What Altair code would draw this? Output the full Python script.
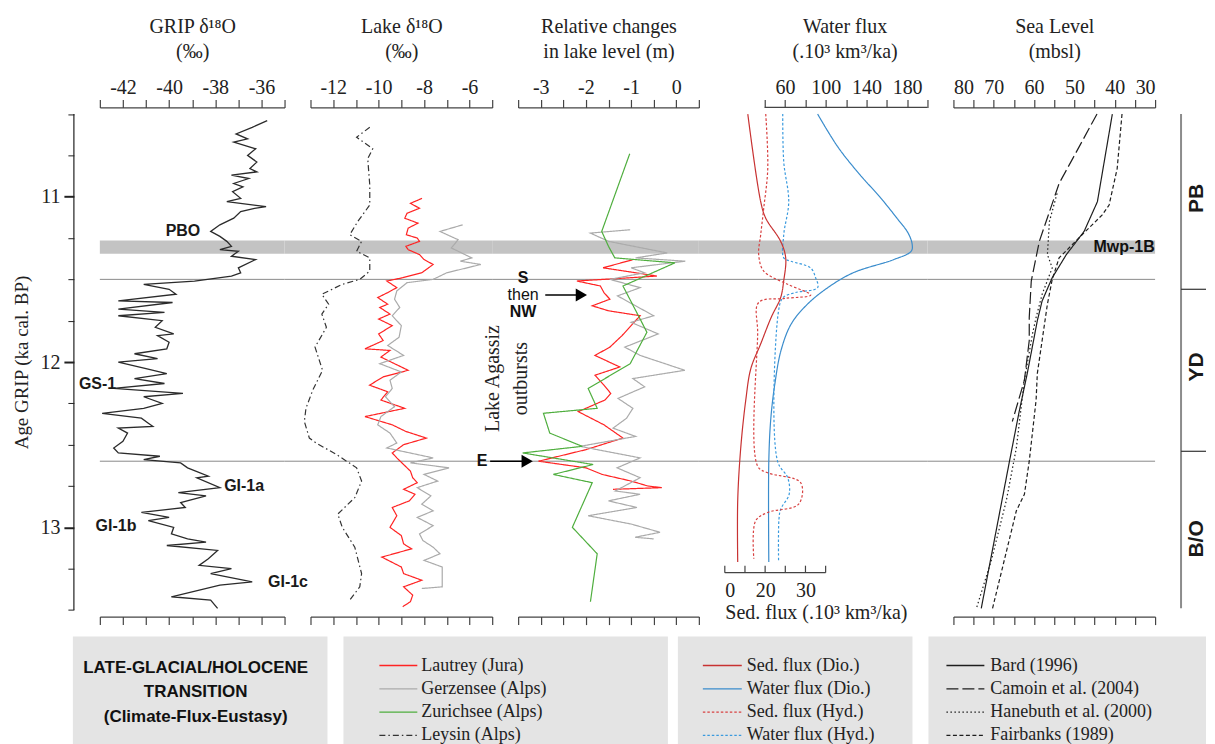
import altair as alt
import pandas as pd

# ---------------- data (age ka cal. BP, value) ----------------
GRIP = [(10.54, -35.75), (10.58, -36.4), (10.62, -37.1), (10.65, -36.6), (10.67, -37.2), (10.71, -36.25),
        (10.75, -36.6), (10.79, -36.2), (10.83, -36.5), (10.85, -36.2), (10.87, -37.3), (10.89, -36.55),
        (10.92, -37.2), (10.94, -36.8), (10.97, -37.25), (11.01, -36.9), (11.03, -37.5), (11.06, -35.8),
        (11.07, -36.3), (11.09, -36.9), (11.13, -37.2), (11.17, -37.8), (11.21, -38.2), (11.24, -37.8),
        (11.27, -37.5), (11.30, -37.3), (11.32, -37.8), (11.33, -37.0), (11.36, -37.3), (11.38, -36.25),
        (11.43, -37.0), (11.46, -36.9), (11.48, -37.3), (11.51, -38.9), (11.53, -41.1), (11.56, -40.0),
        (11.59, -39.7), (11.63, -42.2), (11.64, -39.85), (11.68, -42.2), (11.70, -40.2), (11.72, -42.2),
        (11.75, -40.3), (11.79, -40.6), (11.83, -39.8), (11.84, -40.5), (11.88, -40.0), (11.92, -40.1),
        (11.95, -41.5), (11.98, -40.5), (12.00, -42.2), (12.04, -41.0), (12.07, -40.1), (12.10, -41.5),
        (12.13, -40.2), (12.16, -42.4), (12.19, -39.4), (12.21, -41.1), (12.25, -40.3), (12.28, -41.1),
        (12.31, -42.9), (12.34, -41.2), (12.37, -40.9), (12.39, -40.7), (12.40, -42.2), (12.43, -41.8),
        (12.48, -42.0), (12.52, -42.4), (12.55, -42.2), (12.57, -40.4), (12.59, -41.1), (12.61, -39.5),
        (12.64, -39.2), (12.69, -38.3), (12.70, -38.8), (12.76, -37.8), (12.79, -39.6), (12.81, -38.4),
        (12.85, -39.5), (12.88, -39.3), (12.91, -41.2), (12.94, -40.0), (12.96, -40.9), (13.00, -39.8),
        (13.04, -39.9), (13.07, -39.2), (13.09, -38.4), (13.11, -40.1), (13.14, -37.9), (13.19, -38.3),
        (13.23, -38.7), (13.25, -37.3), (13.28, -38.2), (13.33, -36.4), (13.35, -37.8), (13.42, -39.9),
        (13.44, -38.2), (13.49, -37.9)]

LEYSIN_D18O = [(10.58, -10.39), (10.64, -10.97), (10.71, -10.26), (10.77, -10.48), (10.93, -10.39),
               (11.05, -10.39), (11.15, -10.92), (11.23, -11.27), (11.27, -10.75), (11.33, -10.97),
               (11.37, -10.39), (11.45, -10.39), (11.50, -10.83), (11.53, -11.6), (11.59, -12.5),
               (11.65, -12.2), (11.71, -12.5), (11.79, -12.3), (11.91, -12.8), (12.05, -12.47),
               (12.17, -12.9), (12.28, -13.2), (12.36, -13.27), (12.46, -13.05), (12.49, -12.75),
               (12.56, -11.85), (12.64, -10.97), (12.72, -10.75), (12.82, -11.05), (12.92, -11.8),
               (13.00, -11.6), (13.12, -11.05), (13.28, -10.75), (13.36, -10.83), (13.44, -11.27)]

LAUTREY_D18O = [(11.01, -8.09), (11.04, -8.6), (11.07, -8.2), (11.10, -8.75), (11.13, -8.85), (11.16, -8.27),
                (11.19, -8.7), (11.23, -8.78), (11.25, -8.3), (11.27, -8.2), (11.30, -8.8), (11.32, -8.7),
                (11.35, -8.2), (11.38, -8.0), (11.41, -7.6), (11.46, -8.1), (11.49, -8.94), (11.51, -9.64),
                (11.55, -9.2), (11.58, -9.6), (11.61, -10.04), (11.65, -9.6), (11.67, -9.95), (11.71, -9.5),
                (11.74, -10.0), (11.78, -9.4), (11.83, -10.0), (11.87, -9.8), (11.92, -10.6), (11.93, -9.5),
                (11.97, -9.9), (12.01, -9.3), (12.05, -8.7), (12.09, -9.8), (12.14, -10.4), (12.18, -9.6),
                (12.23, -9.9), (12.28, -8.85), (12.33, -10.6), (12.38, -9.4), (12.42, -8.8), (12.46, -7.9),
                (12.50, -8.9), (12.55, -9.4), (12.58, -9.2), (12.62, -8.9), (12.66, -8.6), (12.70, -8.5),
                (12.73, -8.3), (12.77, -8.9), (12.80, -8.4), (12.84, -8.65), (12.88, -9.4), (12.93, -9.2),
                (13.00, -9.5), (13.05, -9.0), (13.10, -8.9), (13.13, -8.55), (13.18, -9.86), (13.24, -9.0),
                (13.28, -8.9), (13.32, -8.1), (13.36, -8.9), (13.41, -8.5), (13.45, -8.6), (13.48, -8.94)]

GERZENSEE_D18O = [(11.17, -6.3), (11.21, -7.3), (11.26, -6.5), (11.31, -6.8), (11.37, -5.9), (11.39, -6.4),
                  (11.41, -5.5), (11.46, -7.0), (11.50, -7.6), (11.52, -8.75), (11.57, -9.2), (11.62, -9.3),
                  (11.67, -9.07), (11.72, -9.4), (11.78, -9.0), (11.85, -9.1), (11.90, -9.6), (11.96, -8.9),
                  (12.01, -9.95), (12.06, -9.0), (12.11, -9.5), (12.16, -9.4), (12.21, -9.7), (12.27, -9.3),
                  (12.33, -9.9), (12.38, -10.04), (12.43, -9.5), (12.49, -9.2), (12.52, -9.64), (12.58, -7.6),
                  (12.61, -8.6), (12.64, -6.9), (12.68, -8.0), (12.72, -7.4), (12.76, -8.3), (12.81, -7.7),
                  (12.86, -8.1), (12.90, -7.6), (12.94, -8.3), (12.99, -7.6), (13.04, -8.2), (13.08, -8.05),
                  (13.12, -7.6), (13.16, -7.3), (13.20, -8.0), (13.24, -7.2), (13.30, -7.2), (13.36, -7.2),
                  (13.37, -8.1)]

ZURICH_LEVEL = [(10.74, -1.03), (11.21, -1.65), (11.30, -1.5), (11.37, -1.36), (11.40, -0.03), (11.54, -1.18),
                (11.74, -0.8), (11.82, -0.65), (12.01, -1.02), (12.16, -1.95), (12.28, -1.75), (12.31, -2.94),
                (12.43, -2.8), (12.51, -2.08), (12.55, -3.4), (12.62, -1.84), (12.68, -2.72), (12.73, -1.86),
                (13.00, -2.3), (13.16, -1.75), (13.45, -1.9)]

LAUTREY_LEVEL = [(11.38, -0.95), (11.43, -1.62), (11.46, -0.9), (11.48, -0.43), (11.51, -2.2), (11.54, -1.68),
                 (11.58, -1.6), (11.62, -1.47), (11.66, -1.86), (11.69, -1.5), (11.72, -0.8), (11.78, -1.0),
                 (11.84, -1.2), (11.91, -1.47), (11.96, -1.8), (12.03, -1.25), (12.08, -1.8), (12.14, -1.6),
                 (12.19, -1.45), (12.23, -1.58), (12.30, -2.17), (12.38, -1.6), (12.46, -1.18), (12.53, -2.0),
                 (12.60, -3.05), (12.64, -2.0), (12.68, -1.64), (12.72, -1.0), (12.75, -0.63), (12.76, -0.32),
                 (12.77, -1.4)]

GERZENSEE_LEVEL = [(11.20, -1.02), (11.22, -1.9), (11.27, -1.5), (11.34, -0.2), (11.37, -0.9), (11.39, 0.2),
                   (11.43, -1.0), (11.46, -0.7), (11.50, -1.47), (11.55, -0.8), (11.60, -1.3), (11.66, -0.9),
                   (11.72, -0.5), (11.76, -1.0), (11.83, -0.4), (11.91, -1.14), (11.96, -0.8), (12.05, 0.19),
                   (12.10, -0.96), (12.15, -0.7), (12.22, -1.29), (12.28, -0.96), (12.34, -1.1), (12.40, -1.4),
                   (12.45, -0.9), (12.51, -2.13), (12.58, -0.8), (12.64, -1.31), (12.70, -0.8), (12.78, -1.35),
                   (12.80, -0.8), (12.84, -1.5), (12.88, -0.87), (12.93, -1.95), (12.98, -1.0), (13.03, -0.36),
                   (13.06, -0.91), (13.07, -0.5)]

SED_DIO = [(10.50, 11.4), (11.03, 17.8), (11.13, 20.3), (11.27, 27.7), (11.37, 30.2), (11.51, 29.2),
           (11.61, 27.7), (11.73, 23.0), (11.89, 17.8), (12.04, 12.9), (12.23, 10.4), (12.52, 7.9),
           (12.84, 6.4), (13.21, 6.4)]
SED_HYD = [(10.50, 20.3), (10.83, 21.3), (11.07, 19.3), (11.23, 17.8), (11.35, 16.8), (11.45, 19.3),
           (11.53, 31.2), (11.595, 42.6), (11.615, 30.0), (11.64, 16.8), (11.83, 16.3), (12.63, 16.3),
           (12.67, 21.3), (12.73, 37.6), (12.86, 36.6), (12.91, 21.3), (12.96, 15.3), (13.19, 14.4)]
WATER_DIO = [(10.50, 92), (10.70, 112), (10.87, 134), (11.00, 153), (11.13, 170), (11.22, 181), (11.29, 185),
             (11.33, 184), (11.38, 167), (11.46, 127), (11.55, 102), (11.65, 82), (11.77, 66), (11.93, 56),
             (12.13, 50), (12.34, 46), (12.60, 44), (13.21, 44)]
WATER_HYD = [(10.50, 57.7), (10.79, 58.7), (11.03, 63.6), (11.23, 58.7), (11.37, 58.7), (11.39, 65.5),
             (11.43, 85), (11.49, 90), (11.55, 92), (11.58, 70), (11.61, 58), (11.69, 53.6), (12.60, 52.6),
             (12.70, 62.6), (12.80, 64), (12.89, 55.7), (12.95, 54), (13.20, 53.6)]

BARD = [(10.50, 40.6), (11.03, 44.3), (11.21, 47.6), (11.35, 52.0), (11.49, 55.5), (11.63, 58.0),
        (11.75, 59.2), (12.07, 61.7), (12.30, 63.7), (12.60, 66.1), (13.49, 73.1)]
CAMOIN = [(10.50, 44.4), (10.92, 53.8), (11.27, 58.7), (11.51, 60.7), (11.73, 61.2), (11.87, 61.2),
          (12.11, 62.4), (12.36, 65.4)]
HANEBUTH = [(10.98, 54.3), (11.15, 56.2), (11.35, 56.7), (11.43, 55.5), (11.59, 58.0), (11.73, 59.5),
            (11.83, 60.4), (12.11, 62.4), (12.52, 64.4), (12.84, 66.9), (13.20, 70.6), (13.49, 74.3)]
FAIRBANKS = [(10.50, 38.2), (10.83, 39.4), (11.05, 41.4), (11.11, 43.1), (11.23, 48.1), (11.37, 53.8),
             (11.50, 55.5), (11.65, 56.7), (12.07, 59.2), (12.23, 59.5), (12.60, 61.2), (12.80, 62.4),
             (12.90, 64.4), (13.49, 70.3)]

LAKE_NAMES = ["Lautrey (Jura)", "Gerzensee (Alps)", "Zurichsee (Alps)", "Leysin (Alps)"]
LAKE_COLORS = ["#ff2323", "#ababab", "#4fae3e", "#333333"]
LAKE_DASHES = [[1, 0], [1, 0], [1, 0], [6, 3, 1.5, 3]]
FLUX_NAMES = ["Sed. flux (Dio.)", "Water flux (Dio.)", "Sed. flux (Hyd.)", "Water flux (Hyd.)"]
FLUX_COLORS = ["#c83232", "#3a8ccc", "#d84040", "#3a9ade"]
FLUX_DASHES = [[1, 0], [1, 0], [2.5, 2], [2.5, 2]]
SEA_NAMES = ["Bard (1996)", "Camoin et al. (2004)", "Hanebuth et al. (2000)", "Fairbanks (1989)"]
SEA_COLORS = ["#1e1e1e", "#1e1e1e", "#1e1e1e", "#1e1e1e"]
SEA_DASHES = [[1, 0], [12, 4], [1.5, 2.5], [4, 2.5]]

GRIP_LABELS = ["PBO", "GS-1", "GI-1a", "GI-1b", "GI-1c"]
GRIP_LABEL_AGE = [11.21, 12.13, 12.75, 12.99, 13.33]
GRIP_LABEL_VAL = [-39.4, -43.1, -36.75, -42.3, -34.85]

MWP_BAND = [11.265, 11.345]
BOUNDARIES = [11.5, 12.6]
ZONE_NAMES = ["PB", "YD", "B/O"]
ZONE_MID = [11.01, 12.03, 13.07]
ZONE_EDGES = [11.56, 12.54]

AGE_TICKS = [10.5, 10.75, 11.0, 11.25, 11.5, 11.75, 12.0, 12.25, 12.5, 12.75, 13.0, 13.25, 13.5]
GRIP_TICKS = [-43, -42, -41, -40, -39, -38, -37, -36, -35]
LAKE_TICKS = [-13, -12, -11, -10, -9, -8, -7, -6, -5]
LEVEL_TICKS = [-3.5, -3, -2.5, -2, -1.5, -1, -0.5, 0, 0.5]
WATER_TICKS = [40, 60, 80, 100, 120, 140, 160, 180, 200]
SED_TICKS = [0, 10, 20, 30, 40, 50]
SEA_TICKS = [30, 35, 40, 45, 50, 55, 60, 65, 70, 75, 80]

TITLE_LINES = ["LATE-GLACIAL/HOLOCENE", "TRANSITION", "(Climate-Flux-Eustasy)"]


def frame(pairs, name):
    return pd.DataFrame({"series": name,
                         "age": [p[0] for p in pairs],
                         "val": [p[1] for p in pairs],
                         "i": list(range(len(pairs)))})


# ---------------- layout ----------------
W1, W2, W3, W4, W5, W6 = 185, 182, 181, 203, 202, 25
H = 510
GAP = 26
SERIF = "Liberation Serif"
SANS = "Liberation Sans"

YS = alt.Scale(domain=[10.46, 13.54], reverse=True, nice=False, zero=False)


def y_enc(field="age", axis=None):
    return alt.Y(f"{field}:Q", scale=YS, axis=axis)


band_df = pd.DataFrame({"a": [MWP_BAND[0]], "b": [MWP_BAND[1]]})
bound_df = pd.DataFrame({"age": BOUNDARIES})


def backdrop(w, left):
    band = alt.Chart(band_df).mark_rect(color="#c3c3c3").encode(
        x=alt.value(left), x2=alt.value(w), y=y_enc("a"), y2=alt.Y2("b"))
    lines = alt.Chart(bound_df).mark_rule(color="#8a8a8a", strokeWidth=1).encode(
        x=alt.value(left), x2=alt.value(w), y=y_enc())
    return [band, lines]


def top_axis(values, expr, title, title_x=None, domain=True):
    kw = dict(orient="top", values=values, labelExpr=expr, title=title, grid=False,
              titlePadding=16, domain=domain)
    if title_x is not None:
        kw["titleX"] = title_x
    return alt.Axis(**kw)


def bottom_axis(values):
    return alt.Axis(orient="bottom", values=values, labels=False, title=None, grid=False)


EVEN = "datum.value % 2 == 0 ? '' + datum.value : ''"

# ---------- panel 1 : GRIP ----------
xs1 = alt.Scale(domain=[-43, -35], nice=False, zero=False)
grip_df = frame(GRIP, "GRIP")
yaxis = alt.Axis(orient="left", offset=26, values=AGE_TICKS, domain=False, grid=False,
                 labelExpr="datum.value % 1 == 0 ? '' + datum.value : ''",
                 tickSize={"condition": {"test": "datum.value % 1 == 0", "value": 10}, "value": 6},
                 tickWidth={"condition": {"test": "datum.value % 1 == 0", "value": 2}, "value": 1},
                 tickColor="#222", labelPadding=4, title="Age GRIP (ka cal. BP)", titlePadding=8,
                 titleFontSize=19)
p1_line = alt.Chart(grip_df).mark_line(color="#2b2b2b", strokeWidth=1.3).encode(
    x=alt.X("val:Q", scale=xs1, axis=top_axis(GRIP_TICKS, EVEN, ["GRIP δ¹⁸O", "(‰)"])),
    y=y_enc(axis=yaxis), order="i:Q")
p1_ghost = alt.Chart(grip_df).mark_point(opacity=0).encode(
    x=alt.X("val:Q", scale=xs1, axis=bottom_axis(GRIP_TICKS)), y=y_enc())
grip_lab_df = pd.DataFrame({"label": GRIP_LABELS, "age": GRIP_LABEL_AGE, "val": GRIP_LABEL_VAL})
p1_lab = alt.Chart(grip_lab_df).mark_text(font=SANS, fontWeight="bold", fontSize=16, color="#1a1a1a").encode(
    x=alt.X("val:Q", scale=xs1, axis=None), y=y_enc(), text="label:N")
yline = alt.Chart(pd.DataFrame({"a": [10.5], "b": [13.5]})).mark_rule(color="#222", strokeWidth=1.2).encode(
    x=alt.value(-26), y=y_enc("a"), y2=alt.Y2("b"))
p1 = alt.layer(*backdrop(W1, 0), yline, p1_line, p1_ghost, p1_lab).resolve_axis(
    x="independent", y="independent").properties(width=W1, height=H)

# ---------- panel 2 : lake d18O ----------
xs2 = alt.Scale(domain=[-13, -5], nice=False, zero=False)
lake_color = alt.Color("series:N", scale=alt.Scale(domain=LAKE_NAMES, range=LAKE_COLORS), legend=None)
lake_dash = alt.StrokeDash("series:N", scale=alt.Scale(domain=LAKE_NAMES, range=LAKE_DASHES), legend=None)
d18o_df = pd.concat([frame(LAUTREY_D18O, LAKE_NAMES[0]), frame(GERZENSEE_D18O, LAKE_NAMES[1]),
                     frame(LEYSIN_D18O, LAKE_NAMES[3])])
p2_lines = alt.Chart(d18o_df).mark_line(strokeWidth=1.2).encode(
    x=alt.X("val:Q", scale=xs2, axis=top_axis(LAKE_TICKS, EVEN, ["Lake δ¹⁸O", "(‰)"])),
    y=y_enc(), color=lake_color, strokeDash=lake_dash, order="i:Q")
p2_ghost = alt.Chart(d18o_df).mark_point(opacity=0).encode(
    x=alt.X("val:Q", scale=xs2, axis=bottom_axis(LAKE_TICKS)), y=y_enc())
p2 = alt.layer(*backdrop(W2, -GAP), p2_lines, p2_ghost).resolve_axis(
    x="independent").properties(width=W2, height=H)

# ---------- panel 3 : lake level ----------
xs3 = alt.Scale(domain=[-3.5, 0.5], nice=False, zero=False)
level_df = pd.concat([frame(LAUTREY_LEVEL, LAKE_NAMES[0]), frame(GERZENSEE_LEVEL, LAKE_NAMES[1]),
                      frame(ZURICH_LEVEL, LAKE_NAMES[2])])
p3_lines = alt.Chart(level_df).mark_line(strokeWidth=1.2).encode(
    x=alt.X("val:Q", scale=xs3, axis=top_axis(LEVEL_TICKS, "datum.value % 1 == 0 ? '' + datum.value : ''",
                                              ["Relative changes", "in lake level (m)"])),
    y=y_enc(), color=lake_color, strokeDash=lake_dash, order="i:Q")
p3_ghost = alt.Chart(level_df).mark_point(opacity=0).encode(
    x=alt.X("val:Q", scale=xs3, axis=bottom_axis(LEVEL_TICKS)), y=y_enc())
agassiz = alt.Chart(pd.DataFrame({"val": [-4.05], "age": [12.10]})).mark_text(
    text=["Lake Agassiz", "outbursts"], angle=270, font=SERIF, fontSize=20, lineHeight=28,
    align="center", baseline="middle", color="#222").encode(
    x=alt.X("val:Q", scale=xs3, axis=None), y=y_enc())
arrows_df = pd.DataFrame({"x0": [-2.90, -4.12], "x1": [-2.05, -3.25], "xh": [-2.10, -3.30],
                          "age": [11.595, 12.60]})
shafts = alt.Chart(arrows_df).mark_rule(color="black", strokeWidth=1.6).encode(
    x=alt.X("x0:Q", scale=xs3, axis=None), x2=alt.X2("x1"), y=y_enc())
heads = alt.Chart(arrows_df).mark_point(shape="triangle-right", filled=True, size=170, color="black",
                                        opacity=1).encode(
    x=alt.X("xh:Q", scale=xs3, axis=None), y=y_enc())
bold_df = pd.DataFrame({"val": [-3.39, -3.39, -4.30], "age": [11.49, 11.70, 12.60], "label": ["S", "NW", "E"]})
bold_txt = alt.Chart(bold_df).mark_text(font=SANS, fontWeight="bold", fontSize=16, color="#111").encode(
    x=alt.X("val:Q", scale=xs3, axis=None), y=y_enc(), text="label:N")
then_txt = alt.Chart(pd.DataFrame({"val": [-3.39], "age": [11.595], "label": ["then"]})).mark_text(
    font=SANS, fontSize=16, color="#111").encode(
    x=alt.X("val:Q", scale=xs3, axis=None), y=y_enc(), text="label:N")
p3 = alt.layer(*backdrop(W3, -GAP), p3_lines, p3_ghost, agassiz, shafts, heads, bold_txt, then_txt).resolve_axis(
    x="independent").properties(width=W3, height=H)

# ---------- panel 4 : fluxes ----------
XW = alt.Scale(domain=[40 - 40 * 160 / 163, 200], nice=False, zero=False)
XSd = alt.Scale(domain=[0, 100.5], nice=False, zero=False)
flux_color = alt.Color("series:N", scale=alt.Scale(domain=FLUX_NAMES, range=FLUX_COLORS), legend=None)
flux_dash = alt.StrokeDash("series:N", scale=alt.Scale(domain=FLUX_NAMES, range=FLUX_DASHES), legend=None)
water_df = pd.concat([frame(WATER_DIO, FLUX_NAMES[1]), frame(WATER_HYD, FLUX_NAMES[3])])
sed_df = pd.concat([frame(SED_DIO, FLUX_NAMES[0]), frame(SED_HYD, FLUX_NAMES[2])])
water_lines = alt.Chart(water_df).mark_line(strokeWidth=1.2, interpolate="catmull-rom").encode(
    x=alt.X("val:Q", scale=XW, axis=top_axis(WATER_TICKS, "(datum.value - 20) % 40 == 0 ? '' + datum.value : ''",
                                             ["Water flux", "(.10³ km³/ka)"], title_x=120, domain=False)),
    y=y_enc(), color=flux_color, strokeDash=flux_dash, order="i:Q")
SED_EXPR = "datum.value == 0 ? '0' : datum.value == 20 ? '20' : datum.value == 40 ? '30' : ''"
sed_lines = alt.Chart(sed_df).mark_line(strokeWidth=1.2, interpolate="catmull-rom").encode(
    x=alt.X("val:Q", scale=XSd, axis=alt.Axis(orient="bottom", offset=-44, values=SED_TICKS, ticks=False,
                                              domain=False, grid=False, labelExpr=SED_EXPR, labelPadding=8,
                                              title="Sed. flux (.10³ km³/ka)", titleAnchor="start",
                                              titlePadding=2)),
    y=y_enc(), color=flux_color, strokeDash=flux_dash, order="i:Q")
water_axis_line = alt.Chart(pd.DataFrame({"a": [40], "b": [200]})).mark_rule(color="#444", strokeWidth=1.2).encode(
    x=alt.X("a:Q", scale=XW, axis=None), x2=alt.X2("b"), y=alt.value(0))
sed_axis_line = alt.Chart(pd.DataFrame({"a": [0], "b": [50]})).mark_rule(color="#444", strokeWidth=1.2).encode(
    x=alt.X("a:Q", scale=XSd, axis=None), x2=alt.X2("b"), y=alt.value(H - 44))
sed_ticks = alt.Chart(pd.DataFrame({"t": SED_TICKS})).mark_rule(color="#444", strokeWidth=1.2).encode(
    x=alt.X("t:Q", scale=XSd, axis=None), y=alt.value(H - 44 - 7), y2=alt.value(H - 44))
p4 = alt.layer(*backdrop(W4, -GAP), water_axis_line, sed_axis_line, sed_ticks, water_lines, sed_lines).resolve_scale(
    x="independent").resolve_axis(x="independent").properties(width=W4, height=H)

# ---------- panel 5 : sea level ----------
xs5 = alt.Scale(domain=[30, 80], reverse=True, nice=False, zero=False)
sea_df = pd.concat([frame(BARD, SEA_NAMES[0]), frame(CAMOIN, SEA_NAMES[1]),
                    frame(HANEBUTH, SEA_NAMES[2]), frame(FAIRBANKS, SEA_NAMES[3])])
sea_lines = alt.Chart(sea_df).mark_line(strokeWidth=1.2).encode(
    x=alt.X("val:Q", scale=xs5, axis=top_axis(SEA_TICKS, "datum.value % 10 == 0 ? '' + datum.value : ''",
                                              ["Sea Level", "(mbsl)"])),
    y=y_enc(),
    color=alt.Color("series:N", scale=alt.Scale(domain=SEA_NAMES, range=SEA_COLORS), legend=None),
    strokeDash=alt.StrokeDash("series:N", scale=alt.Scale(domain=SEA_NAMES, range=SEA_DASHES), legend=None),
    order="i:Q")
p5_ghost = alt.Chart(sea_df).mark_point(opacity=0).encode(
    x=alt.X("val:Q", scale=xs5, axis=bottom_axis(SEA_TICKS)), y=y_enc())
mwp = alt.Chart(pd.DataFrame({"val": [30.1], "age": [11.305], "label": ["Mwp-1B"]})).mark_text(
    font=SANS, fontWeight="bold", fontSize=16, align="right", color="#111").encode(
    x=alt.X("val:Q", scale=xs5, axis=None), y=y_enc(), text="label:N")
p5 = alt.layer(*backdrop(W5, -GAP), sea_lines, p5_ghost, mwp).resolve_axis(
    x="independent").properties(width=W5, height=H)

# ---------- panel 6 : chronozones ----------
vline = alt.Chart(pd.DataFrame({"a": [10.5], "b": [13.49]})).mark_rule(color="#8c8c8c", strokeWidth=2).encode(
    x=alt.value(0), y=y_enc("a"), y2=alt.Y2("b"))
zticks = alt.Chart(pd.DataFrame({"age": ZONE_EDGES})).mark_rule(color="#333", strokeWidth=1.2).encode(
    x=alt.value(0), x2=alt.value(W6), y=y_enc())
ztext = alt.Chart(pd.DataFrame({"age": ZONE_MID, "label": ZONE_NAMES})).mark_text(
    angle=270, font=SANS, fontWeight="bold", fontSize=21, color="#1a1a1a").encode(
    x=alt.value(16), y=y_enc(), text="label:N")
p6 = alt.layer(vline, zticks, ztext).properties(width=W6, height=H)

row1 = alt.hconcat(p1, p2, p3, p4, p5, p6, spacing=GAP, bounds="flush").resolve_scale(
    x="independent", color="independent", strokeDash="independent")

# ---------- legend row ----------
LW, LH = 1108, 108
one = pd.DataFrame({"d": [0]})
KS = alt.Scale(domain=[0, 3], range=[29, 99], nice=False, zero=False)


def box(x0, x1):
    return alt.Chart(one).mark_rect(color="#e4e4e4").encode(
        x=alt.value(x0), x2=alt.value(x1), y=alt.value(0), y2=alt.value(LH))


def legend_group(names, colors, dashes, sx0, sx1, tx):
    df = pd.DataFrame({"name": names, "color": colors, "dash": dashes, "k": list(range(len(names)))})
    sample = alt.Chart(df).mark_rule(strokeWidth=1.3).encode(
        x=alt.value(sx0), x2=alt.value(sx1), y=alt.Y("k:Q", scale=KS, axis=None),
        color=alt.Color("color:N", scale=None), strokeDash=alt.StrokeDash("dash:N", scale=None))
    text = alt.Chart(df).mark_text(align="left", baseline="middle", font=SERIF, fontSize=18,
                                   color="#222").encode(
        x=alt.value(tx), y=alt.Y("k:Q", scale=KS, axis=None), text="name:N")
    return [sample, text]


title_txt = alt.Chart(one).mark_text(text=TITLE_LINES, font=SANS, fontWeight="bold", fontSize=17, lineHeight=25,
                                     align="center", baseline="middle", color="#111").encode(
    x=alt.value(96), y=alt.value(31))
row2 = alt.layer(box(-27, 228), box(244, 569), box(579, 814), box(830, LW), title_txt,
                 *legend_group(LAKE_NAMES, LAKE_COLORS, LAKE_DASHES, 280, 318, 322),
                 *legend_group(FLUX_NAMES, FLUX_COLORS, FLUX_DASHES, 604, 643, 648),
                 *legend_group(SEA_NAMES, SEA_COLORS, SEA_DASHES, 848, 886, 892)).properties(width=LW, height=LH)

chart = alt.vconcat(row1, row2, spacing=11).resolve_scale(
    x="independent", y="independent", color="independent", strokeDash="independent").properties(
    padding={"left": 5, "top": 8, "right": 0, "bottom": 0}, background="white").configure_view(
    stroke=None).configure_axis(
    labelFont=SERIF, labelFontSize=20, labelColor="#222", titleFont=SERIF, titleFontSize=20,
    titleFontWeight="normal", titleColor="#222", tickColor="#444", domainColor="#444", tickSize=8,
    labelPadding=2, titleLineHeight=25, domainWidth=1.2, tickWidth=1.2, grid=False)

chart.save("out.html", embed_options={"renderer": "svg", "actions": False})
